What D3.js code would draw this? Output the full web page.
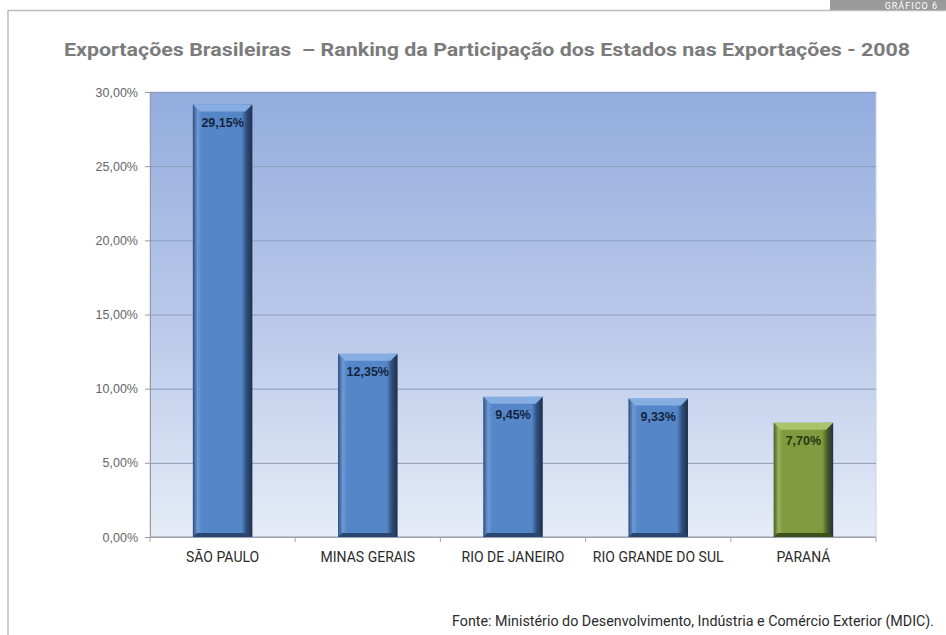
<!DOCTYPE html>
<html>
<head>
<meta charset="utf-8">
<script src="https://cdn.jsdelivr.net/npm/d3@7"></script>
<style>
  body { margin: 0; background: #fff; }
  svg { display: block; }
</style>
</head>
<body>
<svg id="chart"></svg>
<script>
const categories = ["SÃO PAULO", "MINAS GERAIS", "RIO DE JANEIRO", "RIO GRANDE DO SUL", "PARANÁ"];
const values = [29.15, 12.35, 9.45, 9.33, 7.70];
const highlight = [false, false, false, false, true];
const yTicks = [0, 5, 10, 15, 20, 25, 30];

const width = 946, height = 635;
const svg = d3.select("#chart").attr("width", width).attr("height", height);

const margin = { top: 92, right: 70, bottom: 98, left: 150 };
const plotW = width - margin.left - margin.right;
const plotH = height - margin.top - margin.bottom;

const fmt = v => d3.format(".2f")(v).replace(".", ",") + "%";

const defs = svg.append("defs");

const bg = defs.append("linearGradient").attr("id", "bg")
    .attr("x1", 0).attr("y1", 0).attr("x2", 0).attr("y2", 1);
bg.append("stop").attr("offset", "0%").attr("stop-color", "#93acde");
bg.append("stop").attr("offset", "55%").attr("stop-color", "#bccbea");
bg.append("stop").attr("offset", "100%").attr("stop-color", "#e6ecf7");

function barGrad(id, light, mid, dark) {
    const g = defs.append("linearGradient").attr("id", id)
        .attr("x1", 0).attr("y1", 0).attr("x2", 1).attr("y2", 0);
    g.append("stop").attr("offset", "0%").attr("stop-color", dark);
    g.append("stop").attr("offset", "8%").attr("stop-color", light);
    g.append("stop").attr("offset", "15%").attr("stop-color", mid);
    g.append("stop").attr("offset", "82%").attr("stop-color", mid);
    g.append("stop").attr("offset", "90%").attr("stop-color", dark);
    g.append("stop").attr("offset", "100%").attr("stop-color", "#1e2f4a");
}
barGrad("blueBar", "#6e9ad6", "#5486c8", "#2e4f7c");
barGrad("greenBar", "#97b25a", "#7f9a3f", "#4a5c22");

// outer frame and tab
svg.append("path")
    .attr("d", `M8,${height} L8,10.5 L${width},10.5`)
    .attr("fill", "none").attr("stroke", "#bdbdbd").attr("stroke-width", 1.5);
svg.append("rect").attr("x", 830).attr("y", 0).attr("width", 116).attr("height", 10)
    .attr("fill", "#9b9b9b");
svg.append("text").attr("x", 938).attr("y", 8.5).attr("text-anchor", "end")
    .attr("font-family", "Roboto, sans-serif").attr("font-size", 9)
    .attr("letter-spacing", 1).attr("fill", "#fff").text("GRÁFICO 6");

// title
svg.append("text")
    .attr("x", 64).attr("y", 56)
    .style("white-space", "pre")
    .attr("textLength", 846).attr("lengthAdjust", "spacingAndGlyphs")
    .attr("font-family", "Roboto, sans-serif").attr("font-weight", "bold")
    .attr("font-size", 19).attr("fill", "#7b7b7b")
    .text("Exportações Brasileiras  – Ranking da Participação dos Estados nas Exportações - 2008");

const g = svg.append("g").attr("transform", `translate(${margin.left},${margin.top})`);

const x = d3.scaleBand().domain(categories).range([0, plotW]).paddingInner(0.59).paddingOuter(0.295);
const y = d3.scaleLinear().domain([0, 30]).range([plotH, 0]);

g.append("rect").attr("width", plotW).attr("height", plotH).attr("fill", "url(#bg)")
    .attr("stroke", "#c7d2e6");

// gridlines
g.append("g")
    .call(d3.axisLeft(y).tickValues(yTicks).tickSize(-plotW).tickFormat(""))
    .call(s => s.select(".domain").remove())
    .call(s => s.selectAll("line").attr("stroke", "#8d9cba").attr("stroke-width", 1));

// y axis
g.append("g")
    .call(d3.axisLeft(y).tickValues(yTicks).tickSize(5).tickFormat(d => fmt(d)))
    .call(s => s.select(".domain").attr("stroke", "#9a9a9a"))
    .call(s => s.selectAll("line").attr("stroke", "#9a9a9a"))
    .call(s => s.selectAll("text").attr("font-family", "Arial, 'Liberation Sans', sans-serif")
        .attr("font-size", 12.5).attr("fill", "#666").attr("dx", -4));

// x axis
const xAxis = g.append("g").attr("transform", `translate(0,${plotH})`);
xAxis.append("line").attr("x1", 0).attr("x2", plotW).attr("stroke", "#a8a8a8");
xAxis.selectAll("line.tick").data(d3.range(categories.length + 1)).enter()
    .append("line").attr("class", "tick")
    .attr("x1", i => i * x.step()).attr("x2", i => i * x.step())
    .attr("y1", 0).attr("y2", 5).attr("stroke", "#a8a8a8");
xAxis.selectAll("text").data(categories).enter().append("text")
    .attr("x", d => x(d) + x.bandwidth() / 2).attr("y", 25)
    .attr("text-anchor", "middle")
    .attr("font-family", "Roboto, sans-serif").attr("font-size", 14)
    .attr("fill", "#2b2b2b").text(d => d);

// bars
const data = categories.map((c, i) => ({ c, v: values[i], hi: highlight[i] }));
const bars = g.selectAll("g.bar").data(data).enter().append("g").attr("class", "bar");

bars.append("rect")
    .attr("x", d => x(d.c)).attr("y", d => y(d.v))
    .attr("width", x.bandwidth()).attr("height", d => y(0) - y(d.v))
    .attr("fill", d => d.hi ? "url(#greenBar)" : "url(#blueBar)");

// top bevel
bars.append("path")
    .attr("d", d => {
        const x0 = x(d.c), x1 = x0 + x.bandwidth(), t = y(d.v), b = 7;
        return `M${x0},${t} L${x1},${t} L${x1 - b},${t + b} L${x0 + b},${t + b} Z`;
    })
    .attr("fill", d => d.hi ? "#a9c46a" : "#86aee3");

// bottom bevel
bars.append("path")
    .attr("d", d => {
        const x0 = x(d.c), x1 = x0 + x.bandwidth(), bt = y(0), b = 4;
        return `M${x0},${bt} L${x1},${bt} L${x1 - b},${bt - b} L${x0 + b},${bt - b} Z`;
    })
    .attr("fill", d => d.hi ? "#3f4f1c" : "#284670");

bars.append("text")
    .attr("x", d => x(d.c) + x.bandwidth() / 2).attr("y", d => y(d.v) + 22)
    .attr("text-anchor", "middle")
    .attr("font-family", "Arial, 'Liberation Sans', sans-serif").attr("font-weight", "bold")
    .attr("font-size", 12.5).attr("fill", d => d.hi ? "#2a3512" : "#15243d")
    .text(d => fmt(d.v));

// source
svg.append("text")
    .attr("x", 934).attr("y", 626).attr("text-anchor", "end")
    .attr("textLength", 482).attr("lengthAdjust", "spacingAndGlyphs")
    .attr("font-family", "Roboto, sans-serif").attr("font-size", 14)
    .attr("fill", "#2b2b2b")
    .text("Fonte: Ministério do Desenvolvimento, Indústria e Comércio Exterior (MDIC).");
</script>
</body>
</html>
